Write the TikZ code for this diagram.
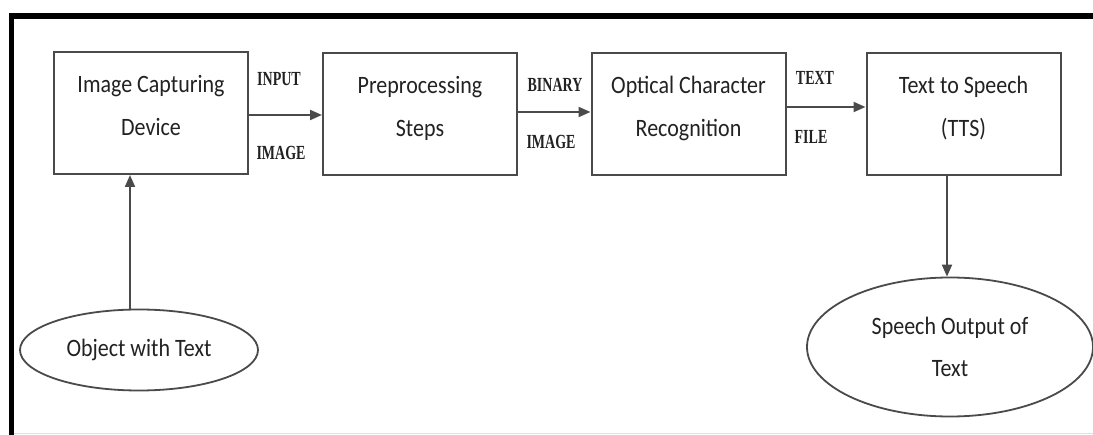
\documentclass[tikz,border=0pt]{standalone}
\usepackage{fontspec}
\usetikzlibrary{arrows.meta,shapes.geometric}
\newfontfamily\boxfont[FakeStretch=0.88]{Carlito}
\newfontfamily\tagfont[FakeStretch=0.7]{Liberation Serif}
\definecolor{edge}{HTML}{4A4A4A}
\definecolor{ink}{HTML}{222222}
\begin{document}
\begin{tikzpicture}[x=1pt,y=-1pt,
  stagebox/.style={draw=edge,line width=2pt,minimum width=194pt,minimum height=122pt,
    align=center,inner sep=0pt,text depth=16pt,text=ink,font=\boxfont\fontsize{25}{43}\selectfont},
  endpoint/.style={ellipse,draw=edge,line width=1.8pt,inner sep=0pt,align=center,
    text=ink,font=\boxfont\fontsize{25}{42}\selectfont},
  flow/.style={draw=edge,line width=2pt,-{Triangle[length=12pt,width=10pt]}},
  tag/.style={inner sep=0pt,text=ink,font=\tagfont\bfseries\fontsize{20}{20}\selectfont}]
\useasboundingbox (0,0) rectangle (1093,435);
% page frame
\fill[white] (0,0) rectangle (1093,435);
\draw[black,line width=6pt] (9,16) -- (1093,16);
\draw[black,line width=5pt] (11.5,13) -- (11.5,435);
\draw[black!12,line width=1pt] (14,433.5) -- (1093,433.5);
% processing stages
\node[stagebox] (b1) at (151,113) {Image Capturing\\Device};
\node[stagebox] (b2) at (420,114) {Preprocessing\\Steps};
\node[stagebox] (b3) at (688.5,114) {Optical Character\\Recognition};
\node[stagebox] (b4) at (963.5,114) {Text to Speech\\(TTS)};
% input and output
\node[endpoint,minimum width=238pt,minimum height=81pt] (e1) at (139,350) {Object with Text};
\node[endpoint,minimum width=286pt,minimum height=139pt] (e2) at (950,347) {Speech Output of\\Text};
% connectors
\draw[flow] (b1.east |- 0,115) -- (b2.west |- 0,115);
\draw[flow] (b2.east |- 0,112) -- (b3.west |- 0,112);
\draw[flow] (b3.east |- 0,107) -- (b4.west |- 0,107);
\draw[flow] ([xshift=-9pt]e1.north) -- ([xshift=-21pt]b1.south);
\draw[flow] ([xshift=-16.5pt]b4.south) -- ([xshift=-3pt]e2.north);
% connector labels
\node[tag] (t1) at (279,79) {INPUT};
\node[tag] (t2) at (281,153) {IMAGE};
\node[tag] (t3) at (555,85) {BINARY};
\node[tag] (t4) at (551,142) {IMAGE};
\node[tag] (t5) at (815,78) {TEXT};
\node[tag] (t6) at (811,137) {FILE};
\end{tikzpicture}
\end{document}
